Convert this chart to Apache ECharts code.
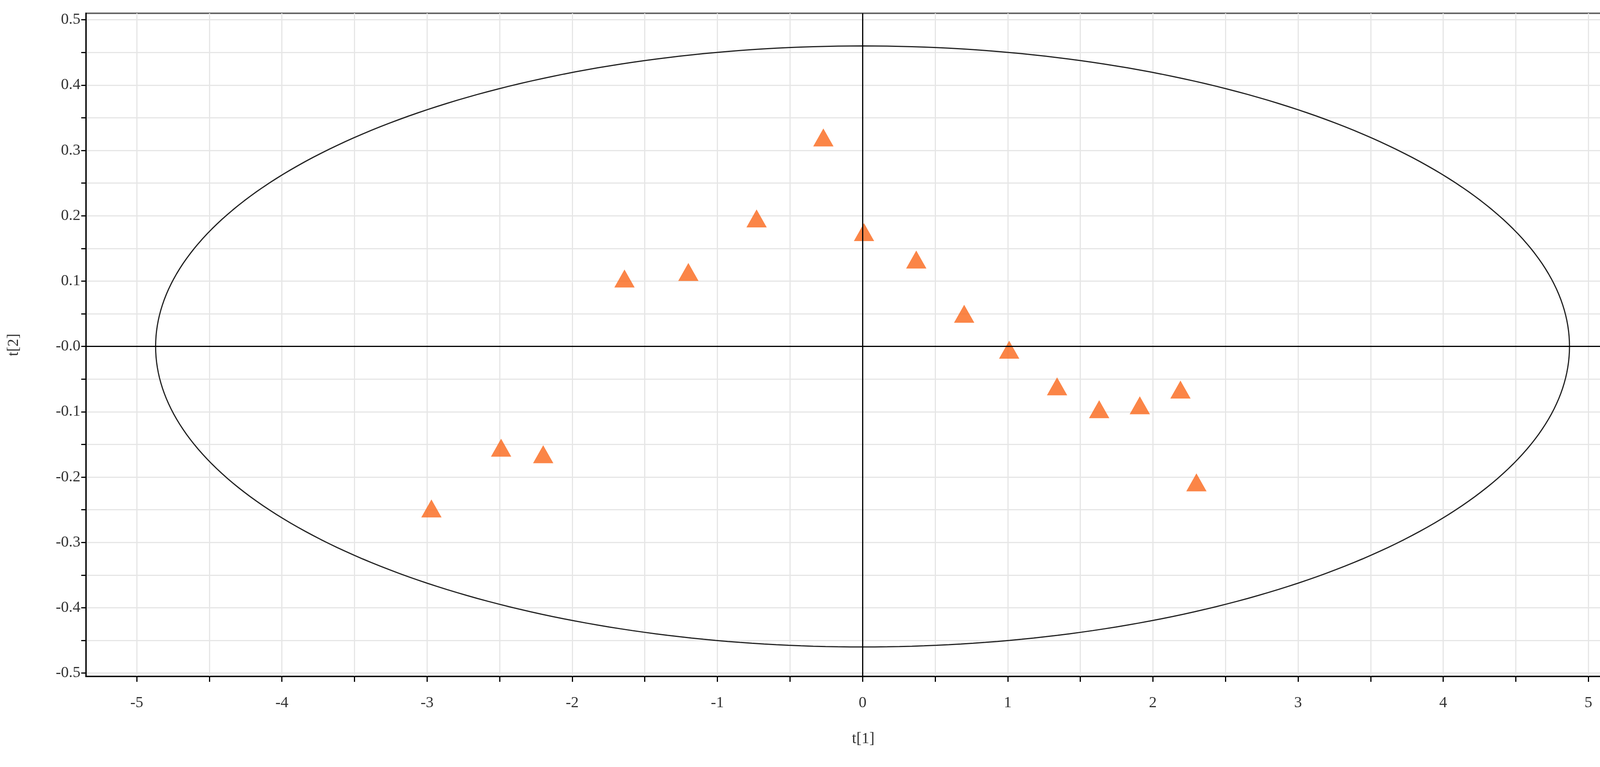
<!DOCTYPE html>
<html>
<head>
<meta charset="utf-8">
<script src="https://cdn.jsdelivr.net/npm/echarts@6/dist/echarts.min.js"></script>
<style>html,body{margin:0;padding:0;background:#fff}#main{width:4222px;height:1963px}</style>
</head>
<body>
<div id="main"></div>
<script>
// 得分数据 t[1], t[2]
var t1 = [-2.97, -2.49, -2.20, -1.64, -1.20, -0.73, -0.27, 0.01, 0.37, 0.70, 1.01, 1.34, 1.63, 1.91, 2.19, 2.30];
var t2 = [-0.248, -0.155, -0.165, 0.104, 0.114, 0.196, 0.320, 0.175, 0.133, 0.050, -0.005, -0.061, -0.096, -0.090, -0.066, -0.208];
// 置信椭圆半轴
var ellipseA = 4.87, ellipseB = 0.46;
var xTickLabels = [-5, -4, -3, -2, -1, 0, 1, 2, 3, 4, 5];
var yTickLabels = [-0.5, -0.4, -0.3, -0.2, -0.1, 0, 0.1, 0.2, 0.3, 0.4, 0.5];

var xTicks = [], yTicks = [];
for (var i = -10; i <= 10; i++) xTicks.push(i / 2);
for (var j = -10; j <= 10; j++) yTicks.push(Math.round(j * 5) / 100);

var pts = [];
for (var k = 0; k < t1.length; k++) pts.push([t1[k], t2[k]]);

var ell = [];
for (var a = 0; a <= 360; a += 1) {
    var r = a * Math.PI / 180;
    ell.push([ellipseA * Math.cos(r), ellipseB * Math.sin(r)]);
}

var font = 'Liberation Serif';
var chart = echarts.init(document.getElementById('main'));
chart.setOption({
    animation: false,
    backgroundColor: '#fff',
    grid: {left: 220, right: 22, top: 34, bottom: 232, show: true, borderColor: '#666', borderWidth: 4, backgroundColor: '#fff'},
    xAxis: {
        type: 'value', min: -5.35, max: 5.36,
        name: 't[1]', nameLocation: 'middle', nameGap: 140,
        nameTextStyle: {fontFamily: font, fontSize: 40, color: '#333'},
        axisLine: {onZero: false, lineStyle: {color: '#000', width: 3}},
        axisTick: {customValues: xTicks, length: 14, lineStyle: {color: '#000', width: 3}},
        axisLabel: {customValues: xTickLabels, fontFamily: font, fontSize: 40, color: '#333', margin: 48},
        splitLine: {show: true, lineStyle: {color: '#e6e6e6', width: 3}}
    },
    yAxis: {
        type: 'value', min: -0.505, max: 0.51,
        name: 't[2]', nameLocation: 'middle', nameGap: 165, nameRotate: 90,
        nameTextStyle: {fontFamily: font, fontSize: 40, color: '#333'},
        axisLine: {onZero: false, lineStyle: {color: '#000', width: 3}},
        axisTick: {customValues: yTicks, length: 12, lineStyle: {color: '#000', width: 3}},
        axisLabel: {customValues: yTickLabels, fontFamily: font, fontSize: 40, color: '#333', margin: 14,
            formatter: function (v) { return Math.abs(v) < 1e-9 ? '-0.0' : v.toFixed(1); }},
        splitLine: {show: true, lineStyle: {color: '#e6e6e6', width: 3}}
    },
    series: [{
        type: 'line', data: ell, showSymbol: false, symbol: 'none',
        lineStyle: {color: '#222', width: 3}, silent: true,
        markLine: {
            symbol: 'none', silent: true, label: {show: false},
            lineStyle: {color: '#000', width: 3, type: 'solid'},
            data: [{xAxis: 0}, {yAxis: 0}]
        }
    }, {
        type: 'scatter', data: pts, symbol: 'triangle', symbolSize: [52, 46],
        itemStyle: {color: '#FA6619'}
    }]
});
</script>
</body>
</html>
